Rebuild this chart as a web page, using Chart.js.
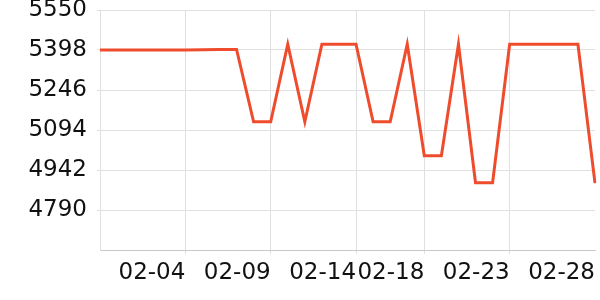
<!DOCTYPE html>
<html>
<head>
<meta charset="utf-8">
<script src="https://cdn.jsdelivr.net/npm/chart.js@4"></script>
<style>
  body { margin: 0; background: #fff; }
  #wrap { width: 600px; height: 300px; }
</style>
</head>
<body>
<div id="wrap"><canvas id="myChart" width="600" height="300"></canvas></div>
<script>
let dates = ['01-30', '01-31', '02-01', '02-02', '02-03', '02-04', '02-05', '02-06', '02-07', '02-08',
    '02-09', '02-10', '02-11', '02-12', '02-13', '02-14', '02-15', '02-16', '02-17', '02-18',
    '02-19', '02-20', '02-21', '02-22', '02-23', '02-24', '02-25', '02-26', '02-27', '02-28']
let prices = [5398, 5398, 5398, 5398, 5398, 5398, 5399, 5400, 5400, 5125,
    5125, 5420, 5125, 5420, 5420, 5420, 5125, 5125, 5420, 4996,
    4996, 5420, 4894, 4894, 5420, 5420, 5420, 5420, 5420, 4892]
let yTicks = [5550, 5398, 5246, 5094, 4942, 4790]
let shownDates = ['02-04', '02-09', '02-14', '02-18', '02-23', '02-28']

let ctx = document.getElementById('myChart').getContext('2d');
Chart.defaults.font.family = 'DejaVu Sans';
Chart.defaults.font.size = 23;
Chart.defaults.color = '#111';

let gridGrey = '#e0e0e0'

let data = {
    type: 'line',
    data: {
        labels: dates,
        datasets: [{
            data: prices,
            borderWidth: 3,
            fill: false,
            borderColor: 'rgb(238, 76, 44)',
            tension: 0,
            pointRadius: 0,
        }]
    },
    options: {
        responsive: false,
        animation: false,
        layout: { padding: { top: 10, right: 5, left: 0, bottom: 0 } },
        plugins: { legend: { display: false }, tooltip: { enabled: false } },
        scales: {
            x: {
                type: 'category',
                afterBuildTicks: (scale) => {
                    scale.ticks = scale.ticks.filter(t => shownDates.includes(dates[t.value]))
                },
                afterFit: (scale) => {
                    scale.height = 50
                    scale.paddingLeft = 0
                    scale.paddingRight = 0
                },
                ticks: { autoSkip: false, maxRotation: 0, align: 'end', padding: 5 },
                grid: {
                    color: (c) => (c.tick && c.tick.label === '02-28') ? 'rgba(0,0,0,0)' : gridGrey,
                    tickLength: 4,
                },
                border: { color: '#c8c8c8', width: 1 },
            },
            y: {
                min: 4638,
                max: 5550,
                afterBuildTicks: (scale) => {
                    scale.ticks = yTicks.map(v => ({ value: v }))
                },
                afterFit: (scale) => {
                    scale.width = 100
                    scale.paddingTop = 0
                    scale.paddingBottom = 0
                },
                ticks: { padding: 10, callback: (v) => String(v) },
                grid: { color: gridGrey, tickLength: 3 },
                border: { color: gridGrey, width: 1 },
            }
        }
    }
};

let myChart = new Chart(ctx, data)
</script>
</body>
</html>
